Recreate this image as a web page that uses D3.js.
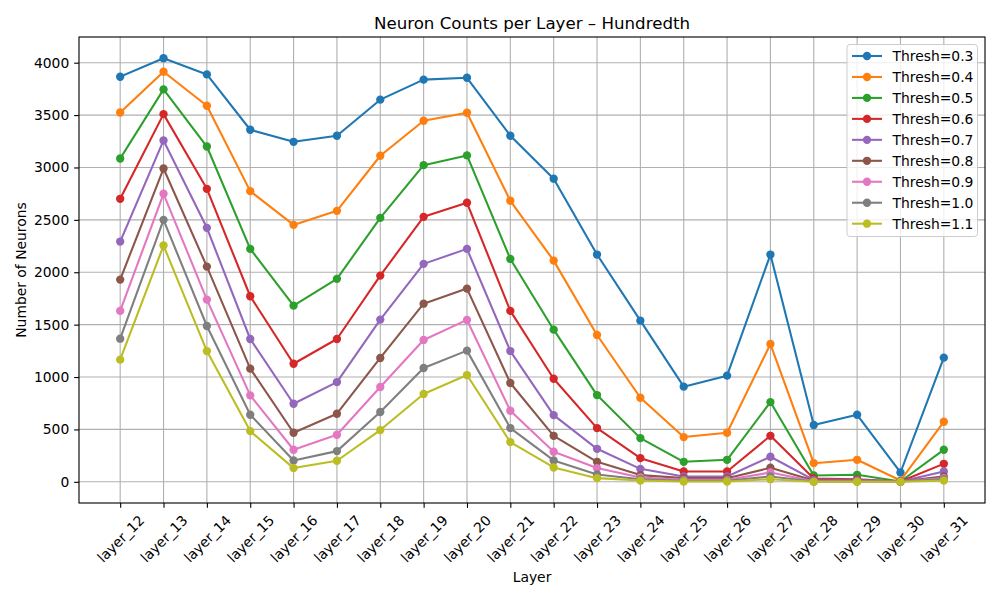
<!DOCTYPE html>
<html><head><meta charset="utf-8">
<script src="https://cdn.jsdelivr.net/npm/d3@7"></script>
<style>body{margin:0;background:#fff}svg{display:block;font-family:"DejaVu Sans",sans-serif}</style>
</head><body>
<svg id="c" width="1000" height="600"></svg>
<script>
const layers = ["layer_12","layer_13","layer_14","layer_15","layer_16","layer_17","layer_18","layer_19","layer_20","layer_21","layer_22","layer_23","layer_24","layer_25","layer_26","layer_27","layer_28","layer_29","layer_30","layer_31"];
const thresholds = ["0.3","0.4","0.5","0.6","0.7","0.8","0.9","1.0","1.1"];
const t03 = [3866,4043,3888,3360,3245,3303,3647,3838,3856,3303,2893,2169,1538,908,1013,2169,542,640,89,1185];
const t04 = [3525,3914,3589,2774,2452,2586,3112,3446,3522,2682,2111,1401,802,427,468,1315,178,210,12,573];
const t05 = [3086,3745,3200,2223,1681,1937,2519,3022,3115,2127,1452,828,417,191,210,761,61,67,3,306];
const t06 = [2701,3509,2796,1771,1127,1363,1968,2529,2663,1631,984,513,226,99,99,439,32,25,3,172];
const t07 = [2293,3258,2424,1363,745,952,1548,2080,2223,1248,637,315,124,51,51,239,19,19,3,99];
const t08 = [1930,2990,2054,1080,468,650,1182,1700,1844,943,439,191,64,35,35,134,12,12,3,51];
const t09 = [1631,2749,1739,825,306,449,905,1354,1545,678,287,131,41,19,19,89,6,6,3,35];
const t10 = [1366,2500,1487,640,204,293,666,1086,1252,513,204,70,25,10,10,51,3,3,3,25];
const t11 = [1166,2255,1248,484,131,201,494,838,1019,379,137,35,12,3,3,25,0,0,0,12];
const seriesValues = [t03,t04,t05,t06,t07,t08,t09,t10,t11];
const yTicks = [0,500,1000,1500,2000,2500,3000,3500,4000];
const colors = ["#1f77b4","#ff7f0e","#2ca02c","#d62728","#9467bd","#8c564b","#e377c2","#7f7f7f","#bcbd22"];

const svg = d3.select("#c");
const L = 79, R = 985, T = 37, B = 503;
const n = layers.length;
const x = d3.scaleLinear().domain([-0.05*(n-1), (n-1)*1.05]).range([L, R]);
const allVals = seriesValues.flat();
const ymin = d3.min(allVals), ymax = d3.max(allVals);
const pad = (ymax - ymin) * 0.05;
const y = d3.scaleLinear().domain([ymin - pad, ymax + pad]).range([B, T]);

// grid
const g = svg.append("g");
g.selectAll(".gx").data(layers).enter().append("line")
  .attr("x1",(d,i)=>x(i)).attr("x2",(d,i)=>x(i)).attr("y1",T).attr("y2",B)
  .attr("stroke","#b0b0b0").attr("stroke-width",0.8*100/72);
g.selectAll(".gy").data(yTicks).enter().append("line")
  .attr("x1",L).attr("x2",R).attr("y1",d=>y(d)).attr("y2",d=>y(d))
  .attr("stroke","#b0b0b0").attr("stroke-width",0.8*100/72);

// lines
const line = d3.line().x((d,i)=>x(i)).y(d=>y(d));
seriesValues.forEach((vals, k) => {
  const s = svg.append("g");
  s.append("path").datum(vals).attr("d", line).attr("fill","none")
    .attr("stroke", colors[k]).attr("stroke-width", 1.5*100/72).attr("stroke-linejoin","round").attr("stroke-linecap","square");
  s.selectAll("circle").data(vals).enter().append("circle")
    .attr("cx",(d,i)=>x(i)).attr("cy",d=>y(d)).attr("r",3*100/72).attr("fill",colors[k]);
});

// spines
svg.append("rect").attr("x",L).attr("y",T).attr("width",R-L).attr("height",B-T)
  .attr("fill","none").attr("stroke","#000").attr("stroke-width",0.8*100/72);

// y axis
const yAxis = d3.axisLeft(y).tickValues(yTicks).tickSize(3.5*100/72).tickPadding(3.5*100/72).tickFormat(d3.format("d"));
const ya = svg.append("g").attr("transform",`translate(${L},0)`).call(yAxis);
ya.select(".domain").remove();
ya.selectAll("text").attr("font-size",10*100/72).attr("font-family","DejaVu Sans").attr("fill","#000");
ya.selectAll("line").attr("stroke","#000").attr("stroke-width",0.8*100/72);

// x axis
const xAxis = d3.axisBottom(x).tickValues(d3.range(n)).tickSize(3.5*100/72).tickFormat(i=>layers[i]);
const xa = svg.append("g").attr("transform",`translate(0,${B})`).call(xAxis);
xa.select(".domain").remove();
xa.selectAll("line").attr("stroke","#000").attr("stroke-width",0.8*100/72);
xa.selectAll("text").each(function(){
  const t = d3.select(this);
  t.attr("font-size",10*100/72).attr("font-family","DejaVu Sans").attr("fill","#000").attr("dy",null);
  const w = this.getComputedTextLength();
  const h = 10*100/72;
  const off = 3.5*100/72*2 + (w + h)*Math.SQRT1_2/2;
  t.attr("y", 0).attr("text-anchor","middle").attr("dominant-baseline","central")
   .attr("transform",`translate(0,${off}) rotate(-45)`);
});

// title and labels
svg.append("text").attr("x",(L+R)/2).attr("y",T-8).attr("text-anchor","middle")
  .attr("font-size",12*100/72).text("Neuron Counts per Layer – Hundredth");
svg.append("text").attr("x",(L+R)/2).attr("y",582).attr("text-anchor","middle")
  .attr("font-size",10*100/72).text("Layer");
svg.append("text").attr("transform",`translate(26,${(T+B)/2}) rotate(-90)`).attr("text-anchor","middle")
  .attr("font-size",10*100/72).text("Number of Neurons");

// legend
const lg = svg.append("g");
lg.append("rect").attr("x",847).attr("y",44.5).attr("width",130.5).attr("height",192).attr("rx",3)
  .attr("fill","#fff").attr("fill-opacity",0.8).attr("stroke","#cccccc").attr("stroke-width",1);
thresholds.forEach((t,k)=>{
  const cy = 56 + k*20.96;
  lg.append("line").attr("x1",852).attr("x2",882).attr("y1",cy).attr("y2",cy)
    .attr("stroke",colors[k]).attr("stroke-width",1.5*100/72);
  lg.append("circle").attr("cx",867).attr("cy",cy).attr("r",3*100/72).attr("fill",colors[k]);
  lg.append("text").attr("x",892.5).attr("y",cy).attr("dominant-baseline","central")
    .attr("font-size",10*100/72).text("Thresh=" + t);
});
</script>
</body></html>
